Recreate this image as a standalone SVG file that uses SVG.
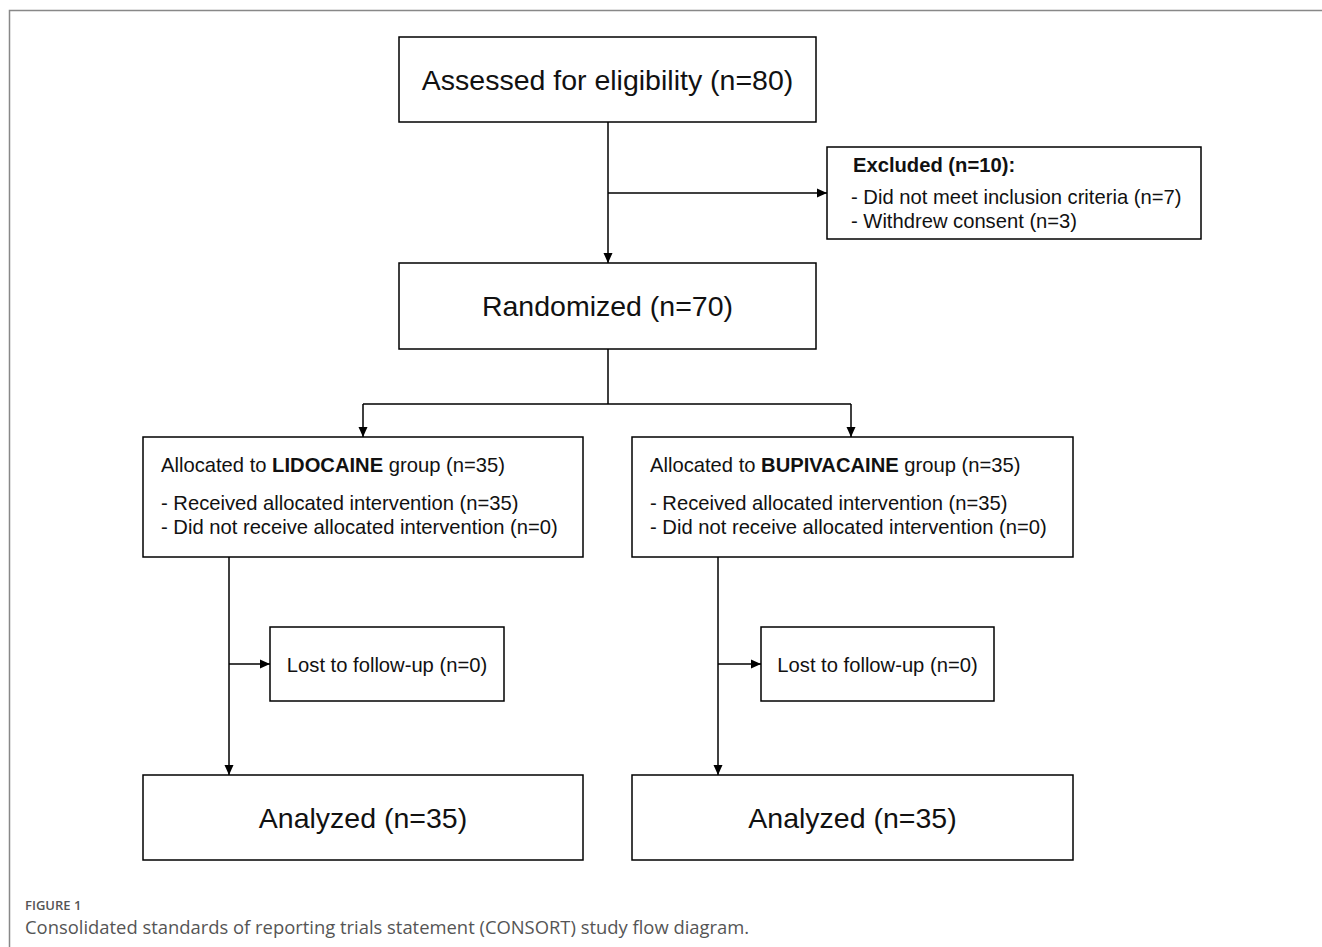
<svg xmlns="http://www.w3.org/2000/svg" width="1322" height="947" viewBox="0 0 1322 947">
<style>
.box{fill:#fff;stroke:#000;stroke-width:1.5}
.big{font-family:"Liberation Sans",Arial,sans-serif;font-size:28.5px;fill:#111;text-anchor:middle}
.sm{font-family:"Liberation Sans",Arial,sans-serif;font-size:20.2px;fill:#111}
.b{font-weight:bold}
.c{stroke:#000;stroke-width:1.5;fill:none}
.frame{stroke:#888;stroke-width:1.5;fill:none}
.cap1{font-family:"Open Sans",sans-serif;font-size:13px;font-weight:600;fill:#555}
.cap2{font-family:"Open Sans",sans-serif;font-size:18.4px;fill:#555}
</style>
<defs>
<marker id="ah" viewBox="0 0 10 10" refX="10" refY="5" markerWidth="10" markerHeight="10" markerUnits="userSpaceOnUse" orient="auto">
<path d="M0,0.5 L10,5 L0,9.5 Z" fill="#000"/>
</marker>
</defs>
<rect width="1322" height="947" fill="#fff"/>
<path class="frame" d="M1322,10.5 H9.5 V947"/>
<g id="connectors">
<path class="c" d="M608,122 V263" marker-end="url(#ah)"/>
<path class="c" d="M608,193 H827" marker-end="url(#ah)"/>
<path class="c" d="M608,349 V404 M363,404 H851"/>
<path class="c" d="M363,404 V437" marker-end="url(#ah)"/>
<path class="c" d="M851,404 V437" marker-end="url(#ah)"/>
<path class="c" d="M229,557 V775" marker-end="url(#ah)"/>
<path class="c" d="M229,664 H270" marker-end="url(#ah)"/>
<path class="c" d="M718,557 V775" marker-end="url(#ah)"/>
<path class="c" d="M718,664 H761" marker-end="url(#ah)"/>
</g>
<g id="assessed">
<rect class="box" x="399" y="37" width="417" height="85"/>
<text class="big" x="607.5" y="90">Assessed for eligibility (n=80)</text>
</g>
<g id="excluded">
<rect class="box" x="827" y="147" width="374" height="92"/>
<text class="sm b" x="853" y="172">Excluded (n=10):</text>
<text class="sm" x="851" y="204">- Did not meet inclusion criteria (n=7)</text>
<text class="sm" x="851" y="228">- Withdrew consent (n=3)</text>
</g>
<g id="randomized">
<rect class="box" x="399" y="263" width="417" height="86"/>
<text class="big" x="607.5" y="316">Randomized (n=70)</text>
</g>
<g id="lidocaine">
<rect class="box" x="143" y="437" width="440" height="120"/>
<text class="sm" x="161" y="472">Allocated to <tspan class="b">LIDOCAINE</tspan> group (n=35)</text>
<text class="sm" x="161" y="510">- Received allocated intervention (n=35)</text>
<text class="sm" x="161" y="534">- Did not receive allocated intervention (n=0)</text>
</g>
<g id="bupivacaine">
<rect class="box" x="632" y="437" width="441" height="120"/>
<text class="sm" x="650" y="472">Allocated to <tspan class="b">BUPIVACAINE</tspan> group (n=35)</text>
<text class="sm" x="650" y="510">- Received allocated intervention (n=35)</text>
<text class="sm" x="650" y="534">- Did not receive allocated intervention (n=0)</text>
</g>
<g id="lost-left">
<rect class="box" x="270" y="627" width="234" height="74"/>
<text class="sm" x="387" y="672" text-anchor="middle">Lost to follow-up (n=0)</text>
</g>
<g id="lost-right">
<rect class="box" x="761" y="627" width="233" height="74"/>
<text class="sm" x="877.5" y="672" text-anchor="middle">Lost to follow-up (n=0)</text>
</g>
<g id="analyzed-left">
<rect class="box" x="143" y="775" width="440" height="85"/>
<text class="big" x="363" y="828">Analyzed (n=35)</text>
</g>
<g id="analyzed-right">
<rect class="box" x="632" y="775" width="441" height="85"/>
<text class="big" x="852.5" y="828">Analyzed (n=35)</text>
</g>
<text class="cap1" x="25" y="910">FIGURE 1</text>
<text class="cap2" x="25" y="934">Consolidated standards of reporting trials statement (CONSORT) study flow diagram.</text>
</svg>
